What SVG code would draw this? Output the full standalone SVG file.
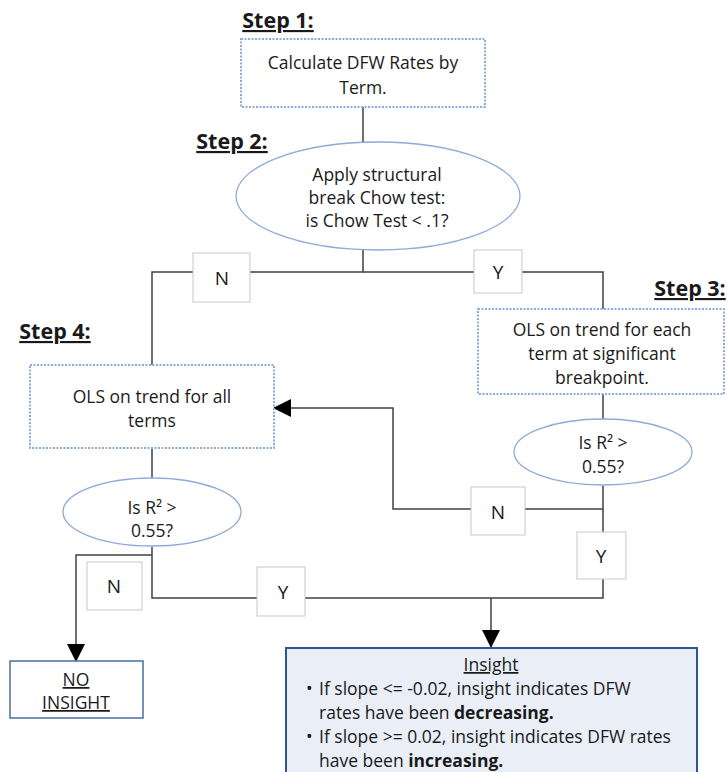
<svg xmlns="http://www.w3.org/2000/svg" width="727" height="772" viewBox="0 0 727 772">
<defs>
<style>
text{font-family:"Open Sans","Liberation Sans",sans-serif;fill:#1a1a1a;}
.t{font-size:17.5px;text-anchor:middle;}
.b{font-size:17.5px;}
.step{font-size:21.5px;font-weight:bold;text-decoration:underline;text-anchor:middle;}
.proc{fill:#fff;stroke:#8EA9DB;stroke-width:2;stroke-dasharray:2 1.5;}
.dec{fill:#fff;stroke:#8EA9DB;stroke-width:1.3;}
.lbl{fill:#fff;stroke:#C8C8C8;stroke-width:1;}
.lt{font-size:19px;text-anchor:middle;}
.c{fill:none;stroke:#404040;stroke-width:1.5;}
</style>
<marker id="ahb" markerWidth="18" markerHeight="18" refX="17" refY="9" orient="auto" markerUnits="userSpaceOnUse" viewBox="0 0 18 18">
<path d="M0,0 L18,9 L0,18 z" fill="#000"/>
</marker>
</defs>
<rect width="727" height="772" fill="#fff"/>

<g id="connectors">
<path class="c" d="M363,107 V142"/>
<path class="c" d="M363,250 V272 H152 V365"/>
<path class="c" d="M363,272 H603 V309"/>
<path class="c" d="M603,394 V419"/>
<path class="c" d="M603,486 V598 H152 V547"/>
<path class="c" d="M603,509 H393 V408 H274" marker-end="url(#ahb)"/>
<path class="c" d="M152,448 V478"/>
<path class="c" d="M152,555 H76 V661" marker-end="url(#ahb)"/>
<path class="c" d="M491,598 V647" marker-end="url(#ahb)"/>
</g>

<g id="step1">
<text class="step" x="278" y="28">Step 1:</text>
<rect class="proc" x="241" y="39" width="244" height="68"/>
<text class="t" x="363" y="69">Calculate DFW Rates by</text>
<text class="t" x="363" y="94">Term.</text>
</g>

<g id="step2">
<text class="step" x="232" y="149">Step 2:</text>
<ellipse class="dec" cx="378" cy="196" rx="142" ry="54"/>
<text class="t" x="377" y="181">Apply structural</text>
<text class="t" x="377" y="204">break Chow test:</text>
<text class="t" x="377" y="227">is Chow Test &lt; .1?</text>
</g>

<g id="step3">
<text class="step" x="690" y="296">Step 3:</text>
<rect class="proc" x="478" y="309" width="246" height="85"/>
<text class="t" x="602" y="336">OLS on trend for each</text>
<text class="t" x="602" y="360">term at significant</text>
<text class="t" x="602" y="384">breakpoint.</text>
</g>

<g id="decision3">
<ellipse class="dec" cx="603" cy="452" rx="89" ry="33"/>
<text class="t" x="603" y="449">Is R² &gt;</text>
<text class="t" x="603" y="473">0.55?</text>
</g>

<g id="step4">
<text class="step" x="55" y="339">Step 4:</text>
<rect class="proc" x="30" y="365" width="244" height="83"/>
<text class="t" x="152" y="403">OLS on trend for all</text>
<text class="t" x="152" y="427">terms</text>
</g>

<g id="decision4">
<ellipse class="dec" cx="152" cy="512" rx="89" ry="34"/>
<text class="t" x="152" y="514">Is R² &gt;</text>
<text class="t" x="152" y="537">0.55?</text>
</g>

<g id="label-n1"><rect class="lbl" x="193" y="253" width="57" height="49"/><text class="lt" x="222" y="285">N</text></g>
<g id="label-y1"><rect class="lbl" x="474" y="250" width="48" height="43"/><text class="lt" x="498" y="279">Y</text></g>
<g id="label-n2"><rect class="lbl" x="471" y="487" width="54" height="48"/><text class="lt" x="498" y="519">N</text></g>
<g id="label-y2"><rect class="lbl" x="577" y="532" width="49" height="47"/><text class="lt" x="601" y="563">Y</text></g>
<g id="label-n3"><rect class="lbl" x="87" y="562" width="55" height="48"/><text class="lt" x="114" y="593">N</text></g>
<g id="label-y3"><rect class="lbl" x="257" y="567" width="48" height="49"/><text class="lt" x="283" y="599">Y</text></g>

<g id="no-insight">
<rect x="10" y="661" width="133" height="57" fill="#fff" stroke="#4A6FA5" stroke-width="1.5"/>
<text class="t" x="76" y="686" text-decoration="underline">NO</text>
<text class="t" x="76" y="709" text-decoration="underline">INSIGHT</text>
</g>

<g id="insight">
<rect x="286" y="648" width="411" height="130" fill="#E9EEF7" stroke="#2F5597" stroke-width="2"/>
<text class="t" x="491" y="671" text-decoration="underline">Insight</text>
<text class="b" x="306" y="695">•</text>
<text class="b" x="319" y="695">If slope &lt;= -0.02, insight indicates DFW</text>
<text class="b" x="319" y="719">rates have been <tspan font-weight="bold">decreasing.</tspan></text>
<text class="b" x="306" y="743">•</text>
<text class="b" x="319" y="743">If slope &gt;= 0.02, insight indicates DFW rates</text>
<text class="b" x="319" y="767">have been <tspan font-weight="bold">increasing.</tspan></text>
</g>
</svg>
